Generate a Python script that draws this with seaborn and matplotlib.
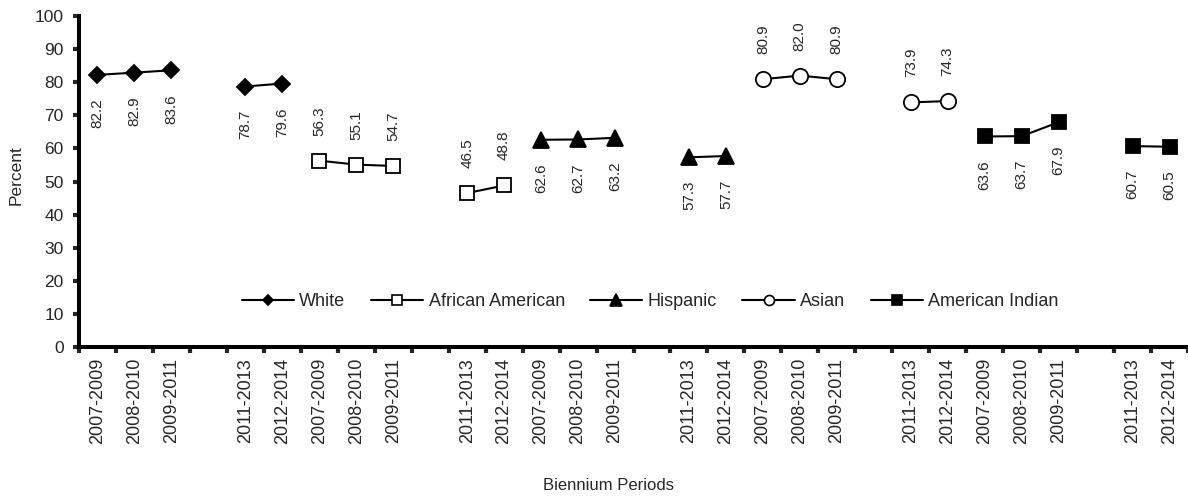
import pandas as pd
import numpy as np
import matplotlib
matplotlib.use("Agg")
import matplotlib.pyplot as plt
from matplotlib.lines import Line2D
import seaborn as sns

# biennium periods per group (2010-2012 is an empty slot in every group)
periods = ["2007-2009", "2008-2010", "2009-2011", "", "2011-2013", "2012-2014"]
races = ["White", "African American", "Hispanic", "Asian", "American Indian"]

white = [82.2, 82.9, 83.6, None, 78.7, 79.6]
african_american = [56.3, 55.1, 54.7, None, 46.5, 48.8]
hispanic = [62.6, 62.7, 63.2, None, 57.3, 57.7]
asian = [80.9, 82.0, 80.9, None, 73.9, 74.3]
american_indian = [63.6, 63.7, 67.9, None, 60.7, 60.5]

series = {
    "White": white,
    "African American": african_american,
    "Hispanic": hispanic,
    "Asian": asian,
    "American Indian": american_indian,
}

# marker style per race: (marker, face, size, legend size, label above?)
styles = {
    "White": ("D", "black", 8.6, 5.2, False),
    "African American": ("s", "white", 10.5, 6.8, True),
    "Hispanic": ("^", "black", 12, 8.0, False),
    "Asian": ("o", "white", 11, 7.2, True),
    "American Indian": ("s", "black", 10.5, 6.8, False),
}

rows = []
for g, race in enumerate(races):
    for j, v in enumerate(series[race]):
        if v is None:
            continue
        rows.append({"race": race, "slot": g * len(periods) + j + 0.5,
                     "value": v, "segment": 0 if j < 3 else 1})
df = pd.DataFrame(rows)

sns.set_style("ticks")
plt.rcParams["font.family"] = ["Liberation Sans", "DejaVu Sans"]

fig = plt.figure(figsize=(11.88, 5.01), dpi=100)
ax = fig.add_axes([79 / 1188, 1 - 347 / 501, 1109 / 1188, 331 / 501])

for race in races:
    marker, face, ms, _, above = styles[race]
    sub = df[df["race"] == race]
    for seg, part in sub.groupby("segment"):
        sns.lineplot(data=part, x="slot", y="value", ax=ax, color="black",
                     linewidth=1.5, marker=marker, markersize=ms,
                     markerfacecolor=face, markeredgecolor="black",
                     markeredgewidth=1.3, legend=False)
    for _, r in sub.iterrows():
        ax.annotate(f"{r['value']:.1f}", (r["slot"], r["value"]),
                    xytext=(0, 18 if above else -17), textcoords="offset points",
                    rotation=90, ha="center", va="bottom" if above else "top",
                    fontsize=11)

n_slots = len(races) * len(periods)
ax.set_xlim(0, n_slots)
ax.set_ylim(0, 100)
ax.set_yticks(range(0, 101, 10))
ax.set_xticks(range(0, n_slots + 1))
ax.set_xticklabels([])
ax.set_xticks(np.arange(n_slots) + 0.5, minor=True)
ax.set_xticklabels(periods * len(races), minor=True, rotation=90, fontsize=13)
ax.tick_params(axis="x", which="major", length=4, width=3, direction="out")
ax.tick_params(axis="x", which="minor", length=0, pad=8)
ax.tick_params(axis="y", length=4, width=3, direction="out", labelsize=12.5, pad=7)

for s in ["top", "right"]:
    ax.spines[s].set_visible(False)
for s in ["left", "bottom"]:
    ax.spines[s].set_linewidth(2.9)
    ax.spines[s].set_color("black")

ax.set_xlabel("Biennium Periods", fontsize=12)
ax.xaxis.set_label_coords(0.4775, -0.395)
ax.set_ylabel("Percent", fontsize=12.5)
ax.yaxis.set_label_coords(-0.05, 0.52)

handles = []
for race in races:
    marker, face, _, lms, _ = styles[race]
    handles.append(Line2D([0], [0], color="black", linewidth=1.5, marker=marker,
                          markersize=lms, markerfacecolor=face,
                          markeredgecolor="black", markeredgewidth=1.2))
ax.legend(handles, races, loc="center", bbox_to_anchor=(0.515, 0.136), ncol=5,
          frameon=False, fontsize=13, handlelength=2.9, handletextpad=0.3,
          columnspacing=1.4)

fig.savefig("out.png", dpi=100)
